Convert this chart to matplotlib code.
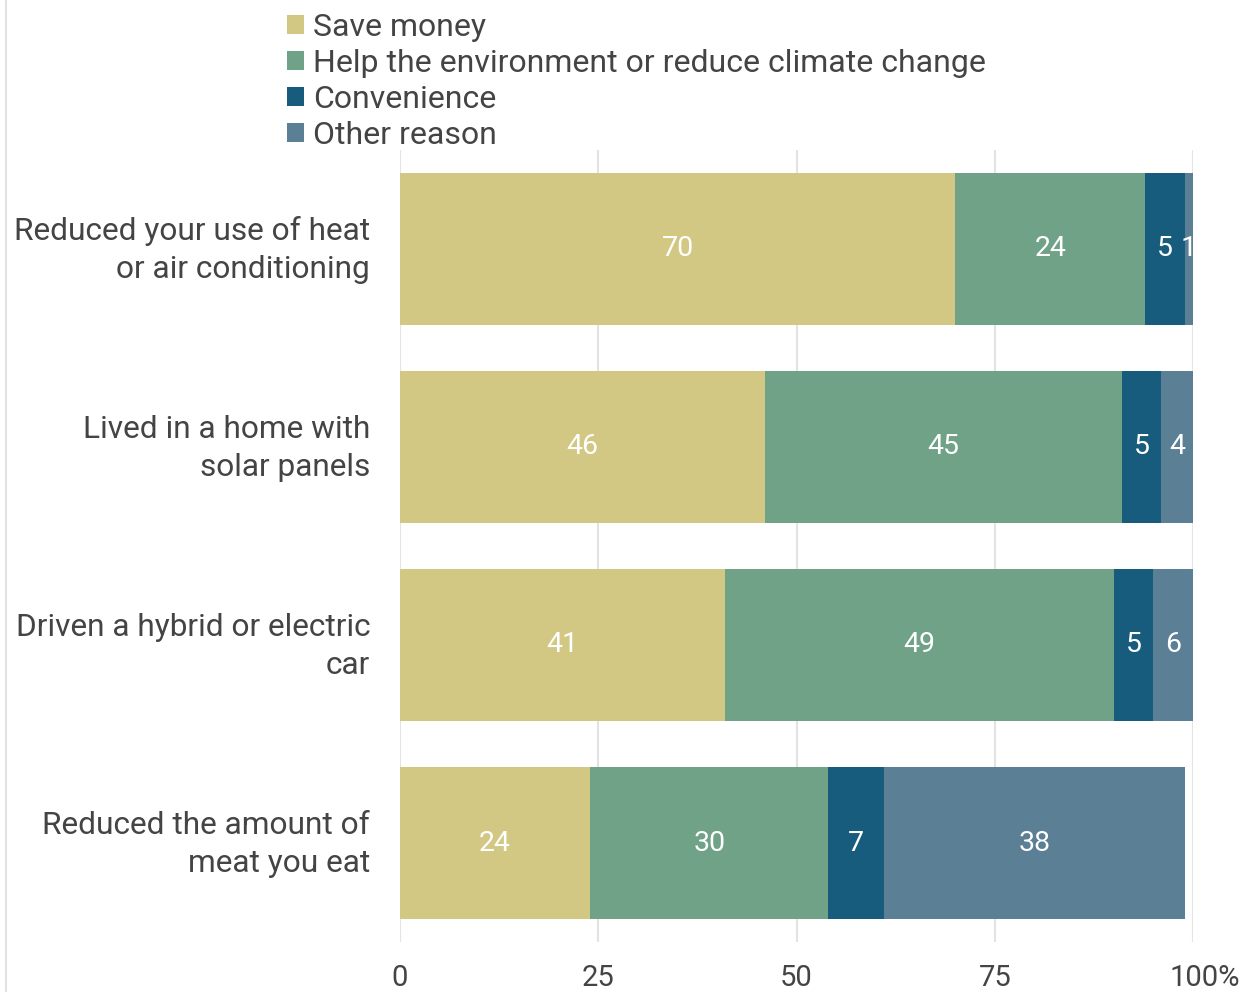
import matplotlib
matplotlib.use("Agg")
import matplotlib.pyplot as plt
from matplotlib.lines import Line2D
from matplotlib.transforms import ScaledTranslation
import numpy as np

categories = ["Reduced your use of heat\nor air conditioning",
              "Lived in a home with\nsolar panels",
              "Driven a hybrid or electric\ncar",
              "Reduced the amount of\nmeat you eat"]
series_names = ["Save money", "Help the environment or reduce climate change",
                "Convenience", "Other reason"]
save_money = [70, 46, 41, 24]
environment = [24, 45, 49, 30]
convenience = [5, 5, 5, 7]
other = [1, 4, 6, 38]
tick_values = [0, 25, 50, 75, 100]
tick_labels = ["0", "25", "50", "75", "100%"]

colors = ["#D2C884", "#70A287", "#175C7C", "#5B7F95"]
text_color = "#444444"

plt.rcParams['font.family'] = ['Roboto', 'DejaVu Sans']

fig = plt.figure(figsize=(12.51, 9.92), dpi=100)
ax = fig.add_axes([400/1251, 50/992, 793/1251, 792/992])

y = np.arange(len(categories))
left = np.zeros(len(categories))
handles = []
for vals, name, col in zip([save_money, environment, convenience, other], series_names, colors):
    bars = ax.barh(y, vals, left=left, height=0.77, color=col, label=name, zorder=3)
    ax.bar_label(bars, labels=[str(v) for v in vals], label_type='center',
                 color='white', fontsize=20.5)
    left += np.array(vals)
    handles.append(bars)

ax.set_ylim(3.5, -0.5)
ax.set_xlim(0, 100)
ax.set_yticks(y)
ax.set_yticklabels(categories, fontsize=22.8, color=text_color, linespacing=1.38)
ax.set_xticks(tick_values)
ax.set_xticklabels(tick_labels, fontsize=21, color=text_color)
ax.tick_params(axis='both', length=0)
ax.tick_params(axis='x', pad=16)
ax.tick_params(axis='y', pad=21.5)

# shift the "100%" label so that "100" sits on its tick
last = ax.get_xticklabels()[-1]
last.set_transform(last.get_transform() + ScaledTranslation(12/100, 0, fig.dpi_scale_trans))
for lab in ax.get_yticklabels():
    lab.set_transform(lab.get_transform() + ScaledTranslation(0, 6/100, fig.dpi_scale_trans))

ax.grid(axis='x', color='#E3E3E3', linewidth=1.5, zorder=0)
for s in ax.spines.values():
    s.set_visible(False)

fig.legend(handles=handles, labels=series_names, loc='upper left',
           bbox_to_anchor=(274/1251, 1.0), frameon=False,
           fontsize=23, handlelength=0.55, handleheight=0.55,
           handletextpad=0.28, labelspacing=0.22, borderaxespad=0,
           labelcolor=text_color)

fig.add_artist(Line2D([6/1251, 6/1251], [0, 1], color='#E3E3E3', linewidth=1.5,
                      transform=fig.transFigure))

fig.savefig("out.png", dpi=100)
